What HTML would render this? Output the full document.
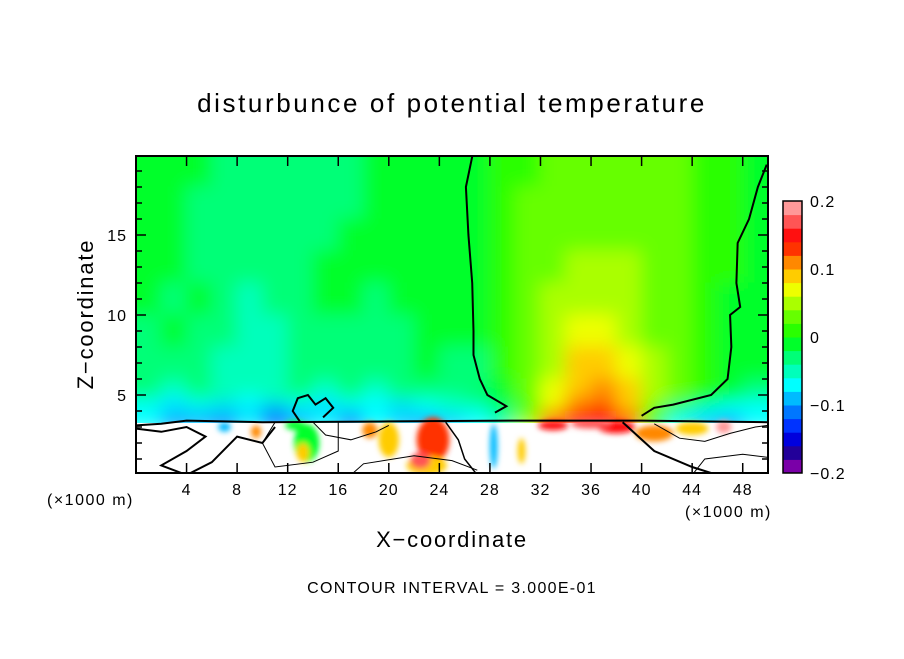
<!DOCTYPE html>
<html><head><meta charset="utf-8"><style>
body{margin:0;background:#fff;}
svg text{font-family:"Liberation Sans",sans-serif;fill:#000;}
</style></head><body>
<svg id="chart" width="904" height="654" xmlns="http://www.w3.org/2000/svg">
<defs>
<clipPath id="plotclip"><rect x="136" y="156" width="632" height="317"/></clipPath>
<filter id="soft" x="-10%" y="-10%" width="120%" height="120%"><feGaussianBlur stdDeviation="9"/></filter>
<filter id="soft2" x="-50%" y="-50%" width="200%" height="200%"><feGaussianBlur stdDeviation="3"/></filter>
</defs>
<rect x="0" y="0" width="904" height="654" fill="#fff"/>
<text x="452" y="112" font-size="26" text-anchor="middle" letter-spacing="2.6">disturbunce of potential temperature</text>
<g id="field" clip-path="url(#plotclip)"><rect x="136" y="156" width="632" height="317" fill="#fff"/><g id="cells" filter="url(#soft)"></g><rect x="130" y="423" width="650" height="60" fill="#fff"/><g id="patches" filter="url(#soft2)"></g><g id="contours"></g></g>
<rect x="136" y="156" width="632" height="317" fill="none" stroke="#000" stroke-width="2"/>
<g id="ticks"></g>
<text x="47" y="505" font-size="16" letter-spacing="1.5">(×1000 m)</text>
<text x="685" y="517" font-size="16" letter-spacing="1.5">(×1000 m)</text>
<text x="452" y="547" font-size="22" text-anchor="middle" letter-spacing="1.8">X−coordinate</text>
<text x="0" y="0" font-size="22" text-anchor="middle" letter-spacing="1.8" transform="translate(93,314) rotate(-90)">Z−coordinate</text>
<text x="452" y="593" font-size="16" text-anchor="middle" letter-spacing="1.3">CONTOUR INTERVAL = 3.000E-01</text>
<g id="colorbar"></g>
</svg>
<script>
// ---- data ----
const levelColors=["#7a00a8","#220099","#0000dd","#0033ff","#0077ff","#00bbff","#00ffff","#00ffbb","#00ff77","#00ff2a","#2aff00","#66ff00","#aaff00","#eeff00","#ffcc00","#ff8800","#ff3300","#ff1010","#ff5555","#ff9999"];
const colorbarLabels=[0.2,0.1,0,-0.1,-0.2];
const xTicks=[4,8,12,16,20,24,28,32,36,40,44,48];
const zTicks=[5,10,15];
const zEdges=[20,18,16,14,12,10,8,6,5,4.5,4,3.6,3.3];
// values in units of 0.01
const fieldRows=[
[-1,-1,-1,-3,-3,-3,-3,-3,-3,-1,-1,-1,-1,-1,1,1,3,3,3,3,3,3,1,1,-1],
[-1,-1,-3,-3,-3,-3,-3,-3,-3,-1,-1,-1,-1,-1,1,3,3,3,3,3,3,3,1,1,-1],
[-1,-1,-3,-3,-3,-3,-3,-3,-1,-1,-1,-1,-1,-1,1,3,3,3,3,3,3,3,1,1,-1],
[-1,-1,-3,-3,-3,-3,-3,-1,-1,-1,-1,-1,-1,-1,1,3,3,5,5,5,3,3,1,1,-1],
[-1,-3,-1,-3,-5,-3,-3,-1,-1,-3,-1,-1,-1,-1,1,3,5,5,5,5,3,3,1,-1,-1],
[-3,-1,-3,-3,-5,-5,-3,-3,-3,-3,-3,-1,-1,-1,1,3,5,7,7,5,3,3,1,-1,-1],
[-3,-3,-3,-5,-5,-5,-3,-3,-3,-3,-3,-1,-3,-3,1,3,5,9,9,7,5,3,1,-1,-1],
[-3,-5,-3,-5,-5,-5,-3,-5,-3,-5,-3,-3,-3,-3,-1,3,7,9,11,9,5,3,1,-1,-3],
[-5,-7,-5,-5,-7,-5,-5,-7,-5,-7,-5,-5,-5,-3,-1,3,7,11,11,9,5,3,-1,-3,-5],
[-7,-9,-7,-9,-7,-9,-7,-9,-7,-7,-9,-7,-5,-5,-3,1,7,11,13,9,3,-3,-5,-7,-7],
[-7,-7,-9,-7,-9,-11,-9,-7,-9,-7,-7,-7,-7,-7,-3,3,11,15,15,11,3,-5,-7,-7,-7],
[-7,-11,-9,-13,-7,-11,-9,-7,-11,-7,-9,-11,-9,-7,-5,5,13,15,15,13,-1,-7,-9,-11,-7]];
// low-level patches: centre x, centre z, half-width (km), half-height (km), value
const patchX=[13.5,13.2,20,23.5,23,22.5,38,41,44,46.5,28.3,12.6,30.5,18.5,33,7,9.5,36];
const patchZ=[2.0,1.4,2.2,2.2,0.6,0.9,3.0,2.6,2.9,3.0,1.8,3.1,1.5,2.8,3.1,3.0,2.7,3.2];
const patchW=[1.0,0.5,0.8,1.3,1.6,0.8,1.5,1.5,1.3,0.6,0.3,0.8,0.3,0.6,1.2,0.5,0.4,1.6];
const patchH=[1.2,0.6,1.1,1.4,0.6,0.5,0.4,0.5,0.4,0.4,1.4,0.3,0.8,0.5,0.3,0.3,0.4,0.3];
const patchV=[-1,9,9,13,9,17,15,11,9,19,-9,-1,9,11,15,-9,11,17];
// contour polylines in data coords [x,z]
const contourA=[[26.6,19.9],[26.1,18],[26.3,15],[26.6,12],[26.7,9],[26.7,7.5],[27.2,6],[27.8,5],[29.3,4.3],[28.4,3.9]];
const contourB=[[49.9,19.4],[49.2,18],[48.5,16],[47.6,14.5],[47.5,12],[47.8,10.5],[47.0,10],[47.1,8],[46.8,6],[45.5,5],[42.5,4.4],[41,4.2],[40,3.7]];
const contourC=[[0,2.9],[2,2.7],[4,3],[5.5,2.4],[4,1.5],[2,0.6],[4,0],[6,0.8],[8,2.4],[10,2],[11,3]];
const contourD=[[14,3.3],[15,2.5],[17,2.2],[19,2.7],[20,3.1]];
const contourE=[[17,0],[18,0.7],[22,1.2],[25,0.9],[27,0.3]];
const contourF=[[41,3.2],[43,2.3],[45,2.1],[47,2.6],[49,3.0],[50,3.1]];
const contourG=[[0,3.1],[2,3.2],[4,3.4],[10,3.3],[20,3.35],[30,3.4],[40,3.4],[50,3.3]];
const contourH=[[13,3.3],[12.4,4],[12.8,4.8],[13.6,5],[14.2,4.4],[15,4.8],[15.6,4.2],[14.8,3.6]];
const contourI=[[24.5,3.3],[25.5,2.2],[26,1],[27,0]];
const contourJ=[[38.5,3.3],[41,1.5],[44,0.5],[46,0]];
const contourK=[[44,0],[45,1],[48,1.3],[50,1.1]];
const contourL=[[11,3.3],[10,2],[11,0.5],[14,0.8],[16,1.5],[16,3.3]];
// ---- scales ----
const X0=136,X1=768,XMAX=50;
const xs=x=>X0+(X1-X0)*x/XMAX;
const zs=z=>475-16*z;
const lvl=v=>Math.max(0,Math.min(19,Math.floor(v/2)+10));
const NS="http://www.w3.org/2000/svg";
function mk(tag,attrs,parent){const e=document.createElementNS(NS,tag);for(const k in attrs)e.setAttribute(k,attrs[k]);parent.appendChild(e);return e;}
const cells=document.getElementById('cells');
const ncol=fieldRows[0].length, dx=XMAX/ncol;
fieldRows.forEach((row,r)=>{row.forEach((v,c)=>{
 let x0=xs(c*dx)-0.5, x1=xs((c+1)*dx)+0.5, y0=zs(zEdges[r])-0.5, y1=zs(zEdges[r+1])+0.5;
 if(c===0)x0-=30; if(c===ncol-1)x1+=30; if(r===0)y0-=30; if(r===fieldRows.length-1)y1+=6;
 const e=mk('rect',{x:x0,y:y0,width:x1-x0,height:y1-y0,fill:levelColors[lvl(v)]},cells);
 
 
});});
const patches=document.getElementById('patches');
patchX.forEach((px,i)=>{
 const e=mk('ellipse',{cx:xs(px),cy:zs(patchZ[i]),rx:xs(patchW[i])-X0,ry:16*patchH[i],fill:levelColors[lvl(patchV[i])]},patches);
 
 
});
const cg=document.getElementById('contours');
[[contourA,2],[contourB,2],[contourC,2],[contourD,1],[contourE,1],[contourF,1],[contourG,2],[contourH,2],[contourI,1.5],[contourJ,2],[contourK,1],[contourL,1]].forEach(([pts,w])=>{
 const e=mk('polyline',{points:pts.map(p=>xs(p[0])+','+zs(p[1])).join(' '),fill:'none',stroke:'#000','stroke-width':w},cg);
 
 
});
const tg=document.getElementById('ticks');
xTicks.forEach(t=>{
 const x=xs(t);
 const a=mk('line',{x1:x,y1:473,x2:x,y2:463,stroke:'#000','stroke-width':1.5},tg);
 
 
 const b=mk('line',{x1:x,y1:156,x2:x,y2:166,stroke:'#000','stroke-width':1.5},tg);
 
 
 const l=mk('text',{x:x,y:495,'font-size':16,'text-anchor':'middle','letter-spacing':1},tg);l.textContent=t;
 
 
});
for(let z=1;z<20;z++){
 const y=zs(z),len=(z%5===0)?10:6;
 const a=mk('line',{x1:136,y1:y,x2:136+len,y2:y,stroke:'#000','stroke-width':1.5},tg);
 
 
 const b=mk('line',{x1:768,y1:y,x2:768-len,y2:y,stroke:'#000','stroke-width':1.5},tg);
 
 
}
zTicks.forEach(t=>{
 const l=mk('text',{x:127,y:zs(t)+6,'font-size':16,'text-anchor':'end','letter-spacing':1},tg);l.textContent=t;
 
 
});
const cb=document.getElementById('colorbar');
const CT=201,CB=473,CX=783,CW=19,step=(CB-CT)/levelColors.length;
levelColors.forEach((c,i)=>{
 const e=mk('rect',{x:CX,y:CB-(i+1)*step,width:CW,height:step+0.5,fill:c},cb);
 
 
});
const fr=mk('rect',{x:CX,y:CT,width:CW,height:CB-CT,fill:'none',stroke:'#000','stroke-width':1.5},cb);


colorbarLabels.forEach(v=>{
 const y=CT+(0.2-v)/0.4*(CB-CT);
 const l=mk('text',{x:810,y:y+6,'font-size':16,'letter-spacing':1},cb);l.textContent=(v<0?'−':'')+Math.abs(v);
 
 
});
</script>
</body></html>
